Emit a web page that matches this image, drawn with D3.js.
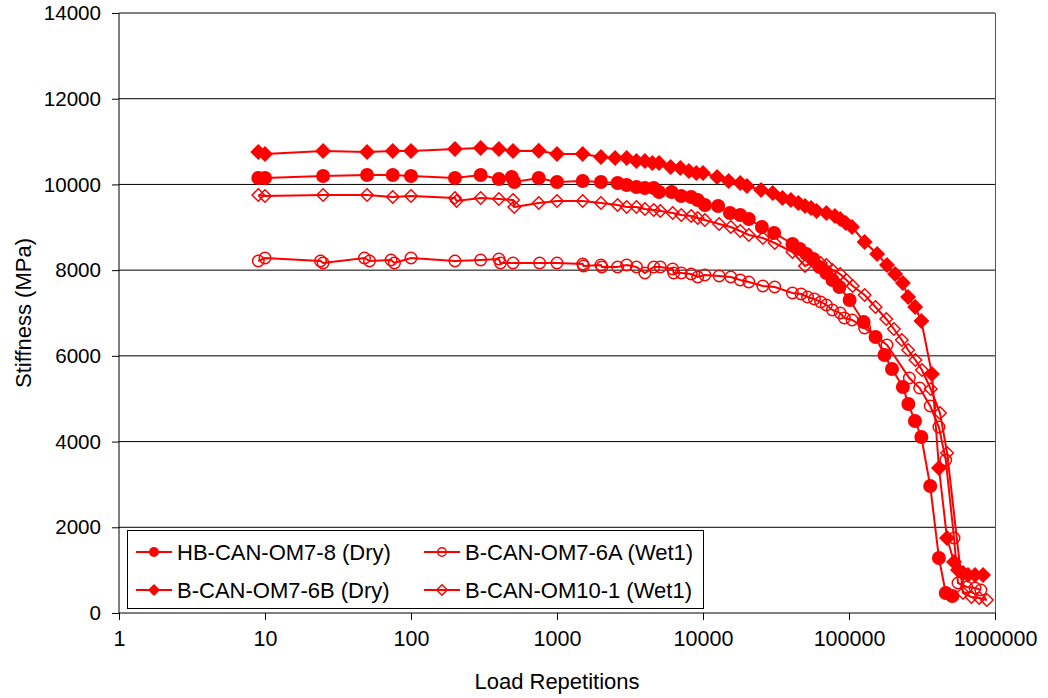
<!DOCTYPE html>
<html><head><meta charset="utf-8">
<script src="https://cdn.jsdelivr.net/npm/d3@7"></script>
<style>body{margin:0;background:#fff}svg{display:block}text{font-family:"Liberation Sans",Arial,sans-serif;fill:#000}</style>
</head><body><svg id="c" width="1048" height="698"></svg>
<script>
const seriesNames = ["HB-CAN-OM7-8 (Dry)", "B-CAN-OM7-6B (Dry)", "B-CAN-OM7-6A (Wet1)", "B-CAN-OM10-1 (Wet1)"];
const xTicks = [1, 10, 100, 1000, 10000, 100000, 1000000];
const yTicks = [0, 2000, 4000, 6000, 8000, 10000, 12000, 14000];

// HB-CAN-OM7-8 (Dry) - filled circles
const hbN = [9,10,25,50,75,100,200,300,400,490,510,750,1000,1500,2000,2600,3000,3500,4000,4600,5000,6100,7100,8300,9200,10300,12700,15300,18000,20600,25300,30700,41000,46000,51000,57000,63000,70000,77000,86000,101000,126000,152000,175000,197000,234000,255000,283000,313000,360000,413000,460000,510000];
const hbS = [10150,10150,10197,10220,10220,10197,10150,10220,10127,10173,10057,10150,10057,10080,10057,10033,9987,9940,9917,9917,9823,9823,9730,9707,9637,9520,9497,9333,9287,9193,9007,8867,8610,8493,8377,8260,8073,7933,7770,7607,7303,6790,6440,6020,5693,5273,4877,4480,4107,2963,1283,467,397];

// B-CAN-OM7-6B (Dry) - filled diamonds
const b6bN = [9,10,25,50,75,100,200,300,400,500,750,1000,1500,2000,2500,3000,3500,4000,4500,5000,6000,7000,8000,9000,10000,12500,15000,18000,20000,25000,30000,35000,40000,45000,50000,55000,60000,70000,80000,87000,95000,105000,128000,156000,182000,207000,234000,254000,284000,313000,370000,413000,469000,524000,558000,604000,653000,730000,828000];
const b6bS = [10757,10710,10780,10757,10780,10780,10827,10850,10827,10780,10787,10710,10710,10640,10617,10617,10547,10547,10500,10500,10407,10383,10313,10267,10267,10173,10080,10033,9963,9870,9800,9683,9637,9567,9497,9450,9380,9333,9263,9193,9100,9007,8657,8377,8120,7910,7700,7373,7140,6813,5577,3383,1750,1190,1003,933,887,887,887];

// B-CAN-OM7-6A (Wet1) - open circles
const b6aN = [9,10,24,25,48,52,73,77,100,200,300,400,410,500,760,1000,1500,1520,2000,2030,2600,3000,3500,4000,4600,5100,6200,6300,7100,8300,9200,10300,12900,15500,18000,20600,25700,31000,41000,47000,52000,58000,64000,70000,77000,87000,93000,105000,128000,182000,259000,305000,360000,413000,460000,524000,558000,640000,730000,800000];
const b6aS = [8213,8283,8213,8167,8283,8213,8237,8167,8283,8213,8237,8260,8167,8167,8167,8167,8143,8097,8120,8073,8073,8120,8073,7933,8073,8073,8027,7933,7933,7910,7840,7887,7863,7840,7770,7723,7630,7607,7467,7443,7373,7327,7257,7187,7070,7000,6883,6837,6650,6253,5483,5250,4830,4340,3570,1750,700,607,583,537];

// B-CAN-OM10-1 (Wet1) - open diamonds
const b10N = [9,10,25,50,75,100,200,205,300,400,500,510,750,1000,1500,2000,2600,3000,3500,4000,4600,5100,6200,7100,8300,9200,10300,12900,15500,18000,20600,25700,31000,41000,50000,57000,64000,70000,77000,87000,96000,106000,128000,152000,180000,203000,230000,254000,285000,316000,363000,420000,470000,604000,690000,780000,880000];
const b10S = [9753,9730,9753,9753,9707,9730,9683,9613,9683,9660,9637,9473,9567,9613,9613,9567,9520,9473,9473,9427,9403,9380,9333,9287,9263,9217,9170,9077,9007,8913,8820,8750,8633,8423,8097,8190,8167,8120,8003,7910,7770,7630,7420,7140,6860,6627,6370,6137,5903,5670,5227,4667,3733,467,373,350,303];

const svg = d3.select("#c");
const L = 119, R = 995, T = 13, B = 613;
const x = d3.scaleLog().domain([1, 1000000]).range([L, R]);
const y = d3.scaleLinear().domain([0, 14000]).range([B, T]);
const red = "#ff0000";

// gridlines
svg.append("g").selectAll("line").data(yTicks.filter(d => d > 0)).join("line")
  .attr("x1", L).attr("x2", R).attr("y1", d => y(d)).attr("y2", d => y(d))
  .attr("stroke", "#000").attr("stroke-width", 1);
// right border
svg.append("line").attr("x1", R + 0.5).attr("x2", R + 0.5).attr("y1", T).attr("y2", B).attr("stroke", "#555");

// axes
const yAxis = d3.axisLeft(y).tickValues(yTicks).tickSize(7).tickPadding(11).tickFormat(d3.format("d"));
const gy = svg.append("g").attr("transform", `translate(${L},0)`).call(yAxis);
const xAxis = d3.axisBottom(x).tickValues(xTicks).tickSize(7).tickPadding(11).tickFormat(d3.format("d"));
const gx = svg.append("g").attr("transform", `translate(0,${B})`).call(xAxis);
[gx, gy].forEach(g => {
  g.selectAll("path").attr("stroke", "#000");
  g.selectAll("line").attr("stroke", "#000");
  g.selectAll("text").attr("font-size", 20.6).attr("font-family", "Liberation Sans, Arial, sans-serif").attr("fill", "#000");
});
gx.selectAll("text").attr("font-size", 21.5);
gx.select(".domain").attr("d", `M${L},0H${R}`);
gy.select(".domain").attr("d", `M0,${T}V${B}`);

svg.append("text").attr("x", (L + R) / 2).attr("y", 689).attr("text-anchor", "middle").attr("font-size", 22).text("Load Repetitions");
svg.append("text").attr("transform", `translate(31,${(T + B) / 2}) rotate(-90)`).attr("text-anchor", "middle").attr("font-size", 22).text("Stiffness (MPa)");

// series
const series = [
  {N: hbN, S: hbS, shape: "circle", fill: true, size: 7},
  {N: b6bN, S: b6bS, shape: "diamond", fill: true, size: 8},
  {N: b6aN, S: b6aS, shape: "circle", fill: false, size: 6.5},
  {N: b10N, S: b10S, shape: "diamond", fill: false, size: 7}
];
const line = d3.line().x(d => x(d[0])).y(d => y(d[1]));
function marker(g, shape, fill, s) {
  if (shape === "circle") {
    g.append("circle").attr("r", fill ? s : s - 0.75)
      .attr("fill", fill ? red : "none").attr("stroke", red).attr("stroke-width", fill ? 0 : 1.5);
  } else {
    const h = fill ? s : s - 0.75;
    g.append("path").attr("d", `M0,${-h}L${h},0L0,${h}L${-h},0Z`)
      .attr("fill", fill ? red : "none").attr("stroke", red).attr("stroke-width", fill ? 0 : 1.5);
  }
}
series.forEach(sr => {
  const pts = sr.N.map((n, i) => [n, sr.S[i]]);
  svg.append("path").datum(pts).attr("d", line).attr("fill", "none").attr("stroke", red).attr("stroke-width", 2);
  const g = svg.append("g");
  pts.forEach(p => {
    const m = g.append("g").attr("transform", `translate(${x(p[0])},${y(p[1])})`);
    marker(m, sr.shape, sr.fill, sr.size);
  });
});

// legend
const lg = svg.append("g");
lg.append("rect").attr("x", 127.5).attr("y", 530.5).attr("width", 576).attr("height", 78)
  .attr("fill", "#fff").attr("stroke", "#000").attr("stroke-width", 1);
const legPos = [[136, 552], [136, 590], [424, 552], [424, 590]];
const legMk = [["circle", true, 5], ["diamond", true, 6], ["circle", false, 5], ["diamond", false, 6]];
seriesNames.forEach((name, i) => {
  const [lx, ly] = legPos[i];
  lg.append("line").attr("x1", lx).attr("x2", lx + 36).attr("y1", ly).attr("y2", ly).attr("stroke", red).attr("stroke-width", 2);
  const m = lg.append("g").attr("transform", `translate(${lx + 18},${ly})`);
  marker(m, legMk[i][0], legMk[i][1], legMk[i][2]);
  lg.append("text").attr("x", lx + 41).attr("y", ly + 8).attr("font-size", 22).text(name);
});
</script></body></html>
